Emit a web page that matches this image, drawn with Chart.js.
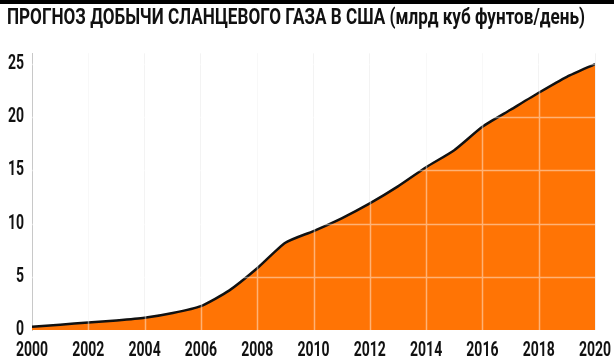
<!DOCTYPE html>
<html><head><meta charset="utf-8">
<script src="https://cdn.jsdelivr.net/npm/chart.js@4.4.0/dist/chart.umd.min.js"></script>
<style>html,body{margin:0;padding:0;background:#fff}#c{display:block}</style>
</head><body>
<canvas id="c" width="614" height="363"></canvas>
<script>
const titleText = 'ПРОГНОЗ ДОБЫЧИ СЛАНЦЕВОГО ГАЗА В США (млрд куб фунтов/день)';
const years = [2000,2001,2002,2003,2004,2005,2006,2007,2008,2009,2010,2011,2012,2013,2014,2015,2016,2017,2018,2019,2020];
const production = [0.3,0.5,0.7,0.9,1.15,1.6,2.25,3.7,5.8,8.2,9.3,10.5,11.9,13.5,15.3,16.9,19.1,20.7,22.3,23.8,25.0];
const yTicks = [0,5,10,15,20,25];
const xTicks = [2000,2002,2004,2006,2008,2010,2012,2014,2016,2018,2020];

const FONT = 'Roboto, "Liberation Sans", sans-serif';

// condensed look: compress all chart text horizontally around its anchor
const condensed = {
  id: 'condensed',
  beforeInit(chart) {
    const ctx = chart.ctx;
    const orig = CanvasRenderingContext2D.prototype.fillText;
    ctx.fillText = function (text, x, y) {
      let s = 0.7;
      let dx = 0;
      if (text === titleText) {
        s = 578 / this.measureText(text).width;
        dx = 7;
      }
      this.save();
      this.translate(x + dx, y);
      this.scale(s, 1);
      orig.call(this, text, 0, 0);
      this.restore();
    };
  },
  beforeDraw(chart) {
    const ctx = chart.ctx;
    ctx.save();
    ctx.fillStyle = '#000';
    ctx.fillRect(0, 0, chart.width, 4);
    ctx.restore();
  }
};

const overGrid = {
  id: 'overGrid',
  afterDatasetsDraw(chart) {
    const {ctx, chartArea, scales} = chart;
    ctx.save();
    ctx.strokeStyle = 'rgba(255,255,255,0.45)';
    ctx.lineWidth = 1.5;
    ctx.beginPath();
    xTicks.slice(1, -1).forEach(v => {
      const x = Math.round(scales.x.getPixelForValue(v)) + 0.5;
      ctx.moveTo(x, chartArea.top); ctx.lineTo(x, chartArea.bottom);
    });
    yTicks.slice(1).forEach(v => {
      const y = Math.round(scales.y.getPixelForValue(v)) + 0.5;
      ctx.moveTo(chartArea.left, y); ctx.lineTo(chartArea.right, y);
    });
    ctx.stroke();
    ctx.restore();
  }
};

new Chart(document.getElementById('c'), {
  type: 'line',
  data: {
    datasets: [{
      data: years.map((y, i) => ({x: y, y: production[i]})),
      borderColor: '#111',
      borderWidth: 2.5,
      backgroundColor: '#FF7405',
      fill: 'origin',
      tension: 0.2,
      pointRadius: 0
    }]
  },
  options: {
    responsive: false,
    animation: false,
    layout: {padding: {left: 0, right: 19, top: 0, bottom: 0}},
    plugins: {
      legend: {display: false},
      tooltip: {enabled: false},
      title: {
        display: true,
        text: titleText,
        align: 'start',
        color: '#111',
        font: {family: FONT, size: 22, weight: 'bold'},
        padding: {top: 5, bottom: 22}
      }
    },
    scales: {
      x: {
        type: 'linear',
        min: 2000, max: 2020,
        afterBuildTicks: s => { s.ticks = xTicks.map(v => ({value: v})); },
        grid: {color: '#f2f2f2', drawTicks: false},
        border: {display: false},
        ticks: {
          color: '#111',
          font: {family: FONT, size: 20, weight: 'bold'},
          padding: 9,
          maxRotation: 0,
          autoSkip: false,
          callback: v => String(v)
        },
        afterFit: s => { s.height = 33; s.paddingLeft = 0; s.paddingRight = 0; }
      },
      y: {
        min: 0, max: 26,
        afterBuildTicks: s => { s.ticks = yTicks.map(v => ({value: v})); },
        grid: {display: false, drawTicks: false},
        border: {display: true, color: '#c8c8c8', width: 1},
        ticks: {
          color: '#111',
          font: {family: FONT, size: 20, weight: 'bold'},
          padding: 8
        },
        afterFit: s => { s.width = 32; s.paddingTop = 0; s.paddingBottom = 0; }
      }
    }
  },
  plugins: [condensed, overGrid]
});
</script>
</body></html>
